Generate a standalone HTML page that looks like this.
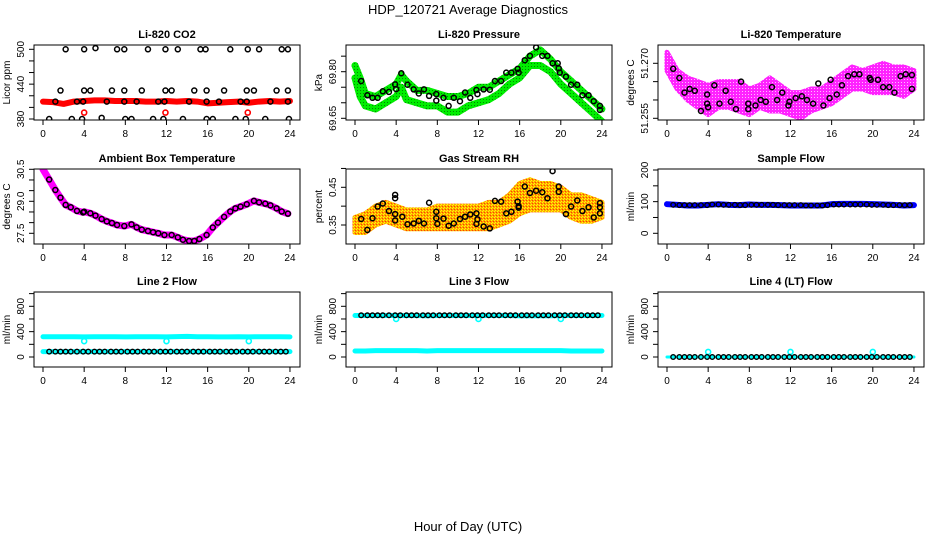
<!DOCTYPE html>
<html><head><meta charset="utf-8"><style>
html,body{margin:0;padding:0;background:#fff}
svg{display:block;font-family:"Liberation Sans",sans-serif}
</style></head><body>
<svg id="c" width="936" height="540" viewBox="0 0 936 540" xmlns="http://www.w3.org/2000/svg">
<defs>
<pattern id="rhpat" width="3" height="3" patternUnits="userSpaceOnUse"><rect width="3" height="3" fill="#ffa500"/><rect width="1" height="1" fill="#ffff00"/><rect x="2" y="1" width="1" height="1" fill="#ffff00"/><rect x="1" y="2" width="1" height="1" fill="#ff4000"/></pattern>
<pattern id="gpat" width="3" height="3" patternUnits="userSpaceOnUse"><rect width="3" height="3" fill="#00ee00"/><rect width="1" height="1" fill="#008800"/></pattern>
<pattern id="mpat" width="3" height="3" patternUnits="userSpaceOnUse"><rect width="3" height="3" fill="#ff22ff"/><rect x="1" y="1" width="1" height="1" fill="#ffbbff"/></pattern>
</defs>
<text x="468" y="14" text-anchor="middle" font-size="13">HDP_120721  Average Diagnostics</text>
<text x="468" y="531" text-anchor="middle" font-size="13">Hour of Day (UTC)</text>
</svg>
<script>
// ---------- data ----------
const xTicks = [0,4,8,12,16,20,24];
const hrs = [0.6,1.2,1.7,2.2,2.7,3.3,3.9,4.4,5.0,5.5,6.0,6.6,7.1,7.6,8.2,8.7,9.2,9.8,10.3,10.8,11.4,11.9,12.4,13.0,13.5,14.0,14.6,15.1,15.6,16.2,16.7,17.2,17.8,18.3,18.8,19.4,19.9,20.4,21.0,21.5,22.0,22.6,23.1,23.6];
const hourly = [0,1,2,3,4,5,6,7,8,9,10,11,12,13,14,15,16,17,18,19,20,21,22,23,24];

const co2RedVals = [410,409,406,410,411,412,412,411,411,411,410,410,411,410,411,410,407,408,409,410,408,410,411,410,411];
const co2BlkH = [2.2,4.0,5.1,7.2,7.9,10.2,11.9,13.1,15.3,15.8,18.2,19.9,21.0,23.2,23.8, 1.7,4.0,4.6,6.7,7.9,9.6,11.9,12.5,14.7,15.9,17.6,19.8,20.5,22.7,23.8, 1.2,3.3,3.9,6.2,7.9,9.1,11.2,11.8,14.2,15.9,17.1,19.2,19.8,22.1,23.8, 0.6,2.8,3.8,5.7,8.0,8.6,10.7,11.7,13.6,15.9,16.5,18.7,19.7,21.6,23.9];
const co2BlkV = [500,500,502,500,500,500,500,500,500,500,500,500,500,500,500, 429,429,429,429,429,429,429,429,429,429,429,429,429,429,429, 410,410,410,410,410,410,410,410,410,410,410,410,410,410,410, 380,380,380,382,380,380,380,380,380,380,380,380,380,380,380];
const co2RedH = [4.0,11.9,19.9];
const co2RedV = [391,391,391];

const presUpH = [0,0.5,1,2,3,4,4.5,5,6,7,8,9,10,11,12,13,14,15,16,17,18,19,20,21,22,23,24];
const presUp = [69.82,69.78,69.73,69.72,69.74,69.76,69.79,69.77,69.74,69.74,69.73,69.72,69.72,69.73,69.75,69.75,69.77,69.79,69.81,69.85,69.87,69.84,69.80,69.77,69.74,69.71,69.68];
const presLo = [69.78,69.72,69.69,69.68,69.70,69.72,69.75,69.71,69.70,69.69,69.69,69.67,69.67,69.69,69.70,69.71,69.73,69.76,69.78,69.82,69.82,69.80,69.76,69.73,69.70,69.67,69.64];
const presBlkH = [0.6,1.2,1.7,2.2,2.7,3.3,3.9,4.0,4.5,5.1,5.7,6.2,6.7,7.2,7.9,7.9,8.6,9.1,9.6,10.2,10.7,11.2,11.8,11.9,12.5,13.1,13.6,14.2,14.7,15.2,15.8,15.9,16.5,17.0,17.6,18.2,18.7,19.2,19.7,19.8,19.9,20.5,21.0,21.6,22.1,22.7,23.2,23.8,23.8];
const presBlkV = [69.770,69.724,69.716,69.716,69.737,69.735,69.759,69.744,69.795,69.758,69.743,69.730,69.743,69.722,69.728,69.707,69.716,69.690,69.716,69.705,69.733,69.716,69.741,69.728,69.743,69.742,69.770,69.770,69.797,69.797,69.809,69.797,69.837,69.851,69.878,69.851,69.851,69.827,69.827,69.811,69.797,69.784,69.758,69.758,69.724,69.724,69.705,69.690,69.677];

const tempUp = [51.273,51.268,51.266,51.265,51.264,51.265,51.265,51.265,51.263,51.264,51.266,51.264,51.262,51.262,51.263,51.263,51.265,51.267,51.269,51.268,51.269,51.270,51.269,51.269,51.268];
const tempLo = [51.268,51.263,51.260,51.258,51.256,51.258,51.258,51.257,51.256,51.258,51.257,51.257,51.256,51.255,51.257,51.258,51.259,51.261,51.263,51.263,51.262,51.262,51.262,51.261,51.263];
const tempBlkH = [0.6,1.2,1.7,2.2,2.7,3.3,3.9,3.9,4.0,4.6,5.1,5.7,6.2,6.7,7.2,7.9,7.9,8.6,9.1,9.6,10.2,10.7,11.2,11.8,11.9,12.5,13.1,13.6,14.2,14.7,15.2,15.8,15.9,16.5,17.0,17.6,18.2,18.7,19.7,19.8,20.5,21.0,21.6,22.1,22.7,23.2,23.8,23.8];
const tempBlkV = [51.2685,51.2660,51.2620,51.2630,51.2625,51.2570,51.2590,51.2615,51.2580,51.2640,51.2590,51.2625,51.2595,51.2575,51.2650,51.2590,51.2575,51.2585,51.2600,51.2595,51.2635,51.2600,51.2620,51.2585,51.2595,51.2605,51.2610,51.2600,51.2590,51.2645,51.2585,51.2605,51.2655,51.2615,51.2640,51.2665,51.2670,51.2670,51.2660,51.2655,51.2655,51.2635,51.2635,51.2620,51.2665,51.2670,51.2668,51.2630];

const ambH = [0,0.6,1.2,1.7,2.2,2.7,3.3,3.9,4.0,4.6,5.1,5.7,6.2,6.7,7.2,7.9,8.6,9.1,9.6,10.2,10.7,11.2,11.8,12.5,13.1,13.6,14.2,14.7,15.2,15.9,16.5,17.0,17.6,18.2,18.7,19.2,19.8,20.5,21.0,21.6,22.1,22.7,23.2,23.8];
const ambV = [30.5,30.02,29.53,29.17,28.83,28.72,28.55,28.48,28.51,28.44,28.33,28.17,28.06,27.98,27.89,27.84,27.92,27.78,27.67,27.61,27.55,27.50,27.42,27.42,27.31,27.20,27.14,27.14,27.23,27.42,27.77,28.0,28.27,28.52,28.67,28.75,28.86,29.02,28.95,28.89,28.81,28.67,28.52,28.42];

const rhUp = [0.37,0.38,0.40,0.41,0.40,0.39,0.39,0.39,0.40,0.40,0.40,0.40,0.40,0.41,0.41,0.43,0.46,0.47,0.46,0.46,0.45,0.43,0.43,0.42,0.41];
const rhLo = [0.33,0.33,0.35,0.36,0.35,0.34,0.34,0.34,0.34,0.34,0.34,0.34,0.34,0.34,0.35,0.36,0.38,0.39,0.39,0.39,0.39,0.37,0.36,0.36,0.37];
const rhBlkH = [0.6,1.2,1.7,2.2,2.7,3.3,3.9,3.9,3.9,3.9,4.6,5.1,5.7,6.2,6.7,7.2,7.9,7.9,8.0,8.6,9.1,9.6,10.2,10.7,11.2,11.8,11.8,11.9,12.5,13.1,13.6,14.2,14.7,15.2,15.8,15.9,15.9,16.5,17.0,17.6,18.2,18.7,19.2,19.8,19.8,20.5,21.0,21.6,22.1,22.7,23.2,23.8,23.8,23.8];
const rhBlkV = [0.366,0.337,0.368,0.399,0.407,0.387,0.379,0.362,0.430,0.421,0.372,0.352,0.354,0.361,0.354,0.409,0.385,0.368,0.353,0.367,0.348,0.354,0.366,0.372,0.378,0.381,0.353,0.365,0.346,0.341,0.414,0.412,0.381,0.385,0.412,0.400,0.396,0.452,0.435,0.441,0.437,0.421,0.493,0.452,0.438,0.379,0.399,0.415,0.387,0.397,0.370,0.397,0.381,0.408];

const sampleBlue = [92,90,88,88,90,92,90,89,91,90,90,89,88,88,88,88,92,93,93,93,92,91,90,88,89];
const sampleBlk = [90,89,89,89,89,89,89,91,91,90,90,90,89,89,90,90,90,90,90,89,89,89,89,89,88,88,88,88,89,91,91,91,91,91,91,91,90,90,90,89,89,89,89,89];

const l2CyanUp = [320,320,320,320,318,320,320,320,318,320,320,320,318,322,325,320,320,318,318,320,318,320,320,320,318];
const l2CyanLo = [85,85,85,85,85,85,85,85,85,85,85,85,85,85,85,85,85,85,85,85,85,85,85,85,85];
const l2Blk = [85,85,85,85,85,85,85,85,85,85,85,85,85,85,85,85,85,85,85,85,85,85,85,85,85,85,85,85,85,85,85,85,85,85,85,85,85,85,85,85,85,85,85,85];
const dipH = [4.0,12.0,20.0];
const l2Dip = [250,250,250];

const l3CyanLo = [95,95,100,100,100,100,100,95,100,100,100,100,100,100,100,100,100,100,100,100,100,95,95,95,95];
const l3CyanUp = [655,655,655,655,655,655,655,650,655,655,655,655,655,655,655,655,650,650,650,650,655,655,655,655,655];
const l3Blk = [658,658,658,658,658,658,658,658,658,658,658,658,658,658,658,658,658,658,658,658,658,658,658,658,658,658,658,658,658,658,658,658,658,658,658,658,658,658,658,658,658,658,658,658];
const l3Dip = [600,600,600];

const l4Cyan = [0,0,0,0,0,0,0,0,0,0,0,0,0,0,0,0,0,0,0,0,0,0,0,0,0];
const l4Blk = [0,0,0,0,0,0,0,0,0,0,0,0,0,0,0,0,0,0,0,0,0,0,0,0,0,0,0,0,0,0,0,0,0,0,0,0,0,0,0,0,0,0,0,0];
const l4Dip = [80,80,80];

// ---------- drawing ----------
const svg = document.getElementById('c');
const NS = 'http://www.w3.org/2000/svg';
function mk(tag, attrs, parent){const e=document.createElementNS(NS,tag);for(const k in attrs)e.setAttribute(k,attrs[k]);(parent||svg).appendChild(e);return e;}

function panel(cfg){
  const g = mk('g',{});
  
  
  const L=cfg.left, T=cfg.top, W=266, H=75;
  const xs = h => L+9+h*10.29;
  const ys = v => cfg.p1 + (v-cfg.v1)*(cfg.p2-cfg.p1)/(cfg.v2-cfg.v1);
  const t = mk('text',{x:L+W/2,y:T-7,'text-anchor':'middle','font-size':11,'font-weight':'bold'},g);
  t.textContent = cfg.title;
  
  
  const clip = 'clip-'+cfg.name;
  const cp = mk('clipPath',{id:clip},g); mk('rect',{x:L,y:T,width:W,height:H},cp);
  const pg = mk('g',{'clip-path':'url(#'+clip+')'},g);
  cfg.draw(pg, xs, ys);
  const box = mk('rect',{x:L,y:T,width:W,height:H,fill:'none',stroke:'#000','stroke-width':1},g);
  
  
  const xa = mk('g',{},g);
  
  
  mk('line',{x1:xs(xTicks[0]),x2:xs(xTicks[xTicks.length-1]),y1:T+H,y2:T+H,stroke:'#000'},xa);
  xTicks.forEach(v=>{
    mk('line',{x1:xs(v),x2:xs(v),y1:T+H,y2:T+H+5,stroke:'#000'},xa);
    const tx=mk('text',{x:xs(v),y:T+H+17,'text-anchor':'middle','font-size':10},xa); tx.textContent=v;
  });
  const ya = mk('g',{},g);
  
  
  const tk=cfg.yTicks;
  mk('line',{x1:L,x2:L,y1:ys(tk[0]),y2:ys(tk[tk.length-1]),stroke:'#000'},ya);
  tk.forEach(v=>mk('line',{x1:L-5,x2:L,y1:ys(v),y2:ys(v),stroke:'#000'},ya));
  cfg.yLabels.forEach(v=>{
    const tx=mk('text',{x:0,y:0,'text-anchor':'middle','font-size':10,transform:`translate(${L-10},${ys(v)}) rotate(-90)`},ya);
    tx.textContent=v;
  });
  const yt=mk('text',{x:0,y:0,'text-anchor':'middle','font-size':10,transform:`translate(${L-24},${T+H/2}) rotate(-90)`},g);
  yt.textContent=cfg.ylab;
  
  
}
function circles(g, xs, ys, H, V, color, r, sw, name){
  H.forEach((h,i)=>{
    const c=mk('circle',{cx:xs(h),cy:ys(V[i]),r:r,fill:'none',stroke:color,'stroke-width':sw},g);
    
    
  });
}
function line(g, xs, ys, H, V, color, w, name){
  const p=mk('polyline',{points:H.map((h,i)=>xs(h)+','+ys(V[i])).join(' '),fill:'none',stroke:color,'stroke-width':w,'stroke-linejoin':'round','stroke-linecap':'round'},g);
  
  
}
function band(g, xs, ys, H, up, lo, fill, name){
  const pts=H.map((h,i)=>xs(h)+','+ys(up[i])).concat(H.slice().reverse().map((h,i)=>xs(h)+','+ys(lo[H.length-1-i])));
  const p=mk('polygon',{points:pts.join(' '),fill:fill,stroke:fill,'stroke-width':5,'stroke-linejoin':'round'},g);
  
  
}
const flowTicks=[0,200,400,600,800,1000], flowLabels=[0,400,800];

panel({name:'co2-panel',title:'Li-820 CO2',ylab:'Licor ppm',left:34,top:45,v1:500,p1:49.3,v2:380,p2:119,
  yTicks:[380,400,420,440,460,480,500],yLabels:[380,440,500],
  draw:(g,xs,ys)=>{line(g,xs,ys,hourly,co2RedVals,'#ff0000',6,'co2-red-series');
    circles(g,xs,ys,co2RedH,co2RedV,'#ff0000',2.5,1.6,'co2-red-point');
    circles(g,xs,ys,co2BlkH,co2BlkV,'#000',2.5,1.5,'co2-avg-point');}});
panel({name:'pressure-panel',title:'Li-820 Pressure',ylab:'kPa',left:346,top:45,v1:69.80,p1:71.7,v2:69.65,p2:118.3,
  yTicks:[69.65,69.70,69.75,69.80,69.85],yLabels:['69.65','69.80'],
  draw:(g,xs,ys)=>{line(g,xs,ys,presUpH,presUp,'url(#gpat)',7,'pressure-green-upper');
    line(g,xs,ys,presUpH,presLo,'url(#gpat)',7,'pressure-green-lower');
    circles(g,xs,ys,presBlkH,presBlkV,'#000',2.5,1.5,'pressure-avg-point');}});
panel({name:'temperature-panel',title:'Li-820 Temperature',ylab:'degrees C',left:658,top:45,v1:51.270,p1:63.3,v2:51.255,p2:118.3,
  yTicks:[51.255,51.260,51.265,51.270],yLabels:['51.255','51.270'],
  draw:(g,xs,ys)=>{band(g,xs,ys,hourly,tempUp,tempLo,'url(#mpat)','temperature-magenta-cloud');
    circles(g,xs,ys,tempBlkH,tempBlkV,'#000',2.5,1.5,'temperature-avg-point');}});
panel({name:'ambient-panel',title:'Ambient Box Temperature',ylab:'degrees C',left:34,top:169,v1:30.5,p1:169.3,v2:27.5,p2:233.3,
  yTicks:[27.5,28.0,28.5,29.0,29.5,30.0,30.5],yLabels:['27.5','29.0','30.5'],
  draw:(g,xs,ys)=>{line(g,xs,ys,ambH,ambV,'#ff00ff',7,'ambient-magenta-series');
    circles(g,xs,ys,ambH.slice(1),ambV.slice(1),'#000',2.5,1.5,'ambient-avg-point');}});
panel({name:'rh-panel',title:'Gas Stream RH',ylab:'percent',left:346,top:169,v1:0.45,p1:187.3,v2:0.35,p2:225,
  yTicks:[0.35,0.40,0.45,0.50],yLabels:['0.35','0.45'],
  draw:(g,xs,ys)=>{band(g,xs,ys,hourly,rhUp,rhLo,'url(#rhpat)','rh-orange-cloud');
    circles(g,xs,ys,rhBlkH,rhBlkV,'#000',2.5,1.5,'rh-avg-point');}});
panel({name:'sample-flow-panel',title:'Sample Flow',ylab:'ml/min',left:658,top:169,v1:200,p1:170,v2:0,p2:233.3,
  yTicks:[0,50,100,150,200],yLabels:[0,100,200],
  draw:(g,xs,ys)=>{line(g,xs,ys,hourly,sampleBlue,'#0000ff',6,'sample-flow-blue');
    circles(g,xs,ys,hrs,sampleBlk,'#000',2.3,1.4,'sample-flow-point');}});
panel({name:'line2-panel',title:'Line 2 Flow',ylab:'ml/min',left:34,top:292,v1:0,p1:357,v2:800,p2:306.3,
  yTicks:flowTicks,yLabels:flowLabels,
  draw:(g,xs,ys)=>{line(g,xs,ys,hourly,l2CyanUp,'#00ffff',5,'line2-cyan-upper');
    line(g,xs,ys,hourly,l2CyanLo,'#00ffff',5,'line2-cyan-lower');
    circles(g,xs,ys,dipH,l2Dip,'#00ffff',2.5,1.6,'line2-cyan-dip');
    circles(g,xs,ys,hrs,l2Blk,'#000',2.3,1.4,'line2-avg-point');}});
panel({name:'line3-panel',title:'Line 3 Flow',ylab:'ml/min',left:346,top:292,v1:0,p1:357,v2:800,p2:306.3,
  yTicks:flowTicks,yLabels:flowLabels,
  draw:(g,xs,ys)=>{line(g,xs,ys,hourly,l3CyanLo,'#00ffff',5,'line3-cyan-lower');
    line(g,xs,ys,hourly,l3CyanUp,'#00ffff',5,'line3-cyan-upper');
    circles(g,xs,ys,dipH,l3Dip,'#00ffff',2.5,1.6,'line3-cyan-dip');
    circles(g,xs,ys,hrs,l3Blk,'#000',2.3,1.4,'line3-avg-point');}});
panel({name:'line4-panel',title:'Line 4 (LT) Flow',ylab:'ml/min',left:658,top:292,v1:0,p1:357,v2:800,p2:306.3,
  yTicks:flowTicks,yLabels:flowLabels,
  draw:(g,xs,ys)=>{line(g,xs,ys,hourly,l4Cyan,'#00ffff',3,'line4-cyan-series');
    circles(g,xs,ys,dipH,l4Dip,'#00ffff',2.5,1.6,'line4-cyan-dip');
    circles(g,xs,ys,hrs,l4Blk,'#000',2.3,1.4,'line4-avg-point');}});
</script>
</body></html>
